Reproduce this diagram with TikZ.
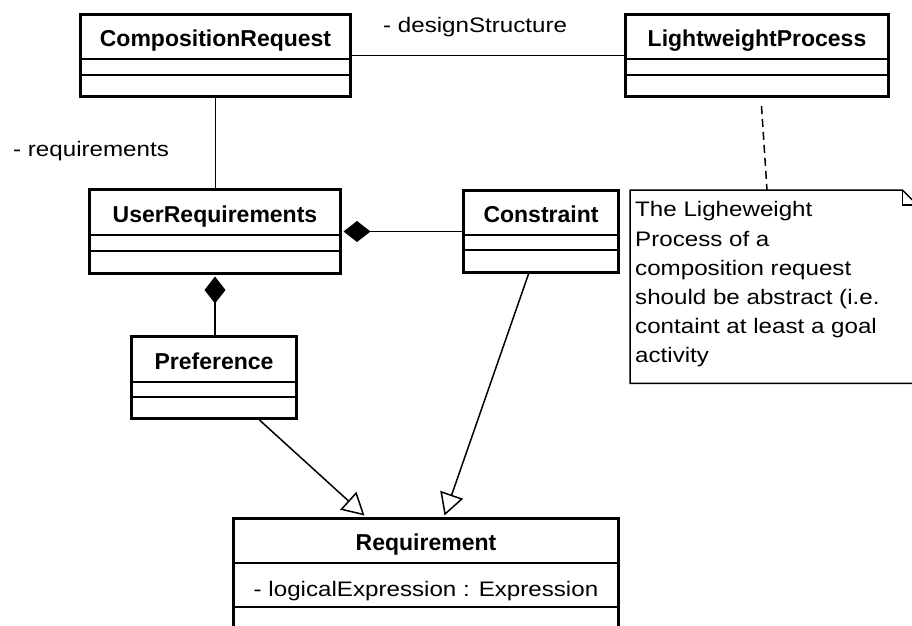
\documentclass[tikz,border=0pt]{standalone}
\usepackage{fontspec}
\setmainfont{Liberation Sans}
\newfontfamily\widefont[FakeStretch=1.15]{Liberation Sans}
\usetikzlibrary{arrows.meta,calc}

% UML class: name, x, y, width, height, first divider, second divider, title
\newcommand\umlclass[8]{%
  \node[classbox, minimum width=#4pt, minimum height=#5pt] (#1) at (#2,#3) {};
  \draw[compline] ($(#1.north west)+(0,#6)$) -- ($(#1.north east)+(0,#6)$);
  \draw[compline] ($(#1.north west)+(0,#7)$) -- ($(#1.north east)+(0,#7)$);
  \node[classtitle, anchor=base] (#1-title) at ($(#1.north)+(0,#6-13)$) {#8};
}

\begin{document}
\begin{tikzpicture}[x=1pt,y=-1pt,
  classbox/.style={draw, line width=3pt, anchor=north west, inner sep=0pt, fill=white},
  compline/.style={line width=1.6pt},
  classtitle/.style={font=\fontsize{23}{28}\selectfont\bfseries, inner sep=0pt},
  plaintext/.style={font=\widefont\fontsize{21}{29.2}\selectfont, inner sep=0pt},
  assoc/.style={line width=1.5pt},
  compos/.style={line width=1.5pt, {Diamond[length=27pt,width=21pt]}-},
  general/.style={line width=1.5pt, -{Triangle[open,length=22pt,width=24pt,line width=1.5pt]}},
  notelink/.style={line width=1.5pt, dash pattern=on 8pt off 5pt},
  noteline/.style={line width=1.5pt}
]
\useasboundingbox (0,0) rectangle (912,625);
\fill[white] (0,0) rectangle (912,625);
\clip (0,0) rectangle (912,625);

% classes
\umlclass{cr}{79}{13}{270}{82}{46}{62}{CompositionRequest}
\umlclass{lp}{624}{13}{263}{82}{46}{62}{LightweightProcess}
\umlclass{ur}{88}{188}{251}{84}{47}{63}{UserRequirements}
\umlclass{con}{462}{189}{155}{82}{46}{61}{Constraint}
\umlclass{pref}{130}{335}{165}{82}{47}{62}{Preference}
\umlclass{req}{232}{517}{385}{150}{46}{90}{Requirement}
\node[plaintext, anchor=base] (req-attr) at ($(req.north)+(0,79)$) {- logicalExpression : Expression};

% associations
\draw[assoc] (cr.east) -- (lp.west);
\node[plaintext, anchor=base west] (ds) at (383,32) {- designStructure};
\draw[assoc] (cr.south) -- (cr.south |- ur.north);
\node[plaintext, anchor=base west] (rq) at (13,156) {- requirements};

% compositions
\draw[compos, shorten <=1.5pt] (ur.east) -- (con.west);
\draw[compos, shorten <=1.5pt] (ur.south) -- (ur.south |- pref.north);

% generalizations
\draw[general] ($(pref.south)+(45.5,0)$) -- ($(req.north)+(-61.5,-1.5)$);
\draw[general] ($(con.south)+(-12.5,0)$) -- ($(req.north)+(18.5,-1.5)$);

% note
\node[anchor=north west, inner sep=0pt, minimum width=287pt, minimum height=193pt] (note) at (630,190) {};
\draw[noteline, fill=white] (note.north west) -- ($(note.north east)+(-15,0)$) -- ($(note.north east)+(0,15)$)
  -- (note.south east) -- (note.south west) -- cycle;
\draw[noteline] ($(note.north east)+(-15,0)$) -- ($(note.north east)+(-15,15)$) -- ($(note.north east)+(0,15)$);
\node[plaintext, anchor=north west, align=left] (note-text) at ($(note.north west)+(5,11.5)$)
  {The Ligheweight\\Process of a\\composition request\\should be abstract (i.e.\\containt at least a goal\\activity};
\draw[notelink] ($(lp.south)+(4.5,8)$) -- ($(note.north west)+(137,0)$);
\end{tikzpicture}
\end{document}
